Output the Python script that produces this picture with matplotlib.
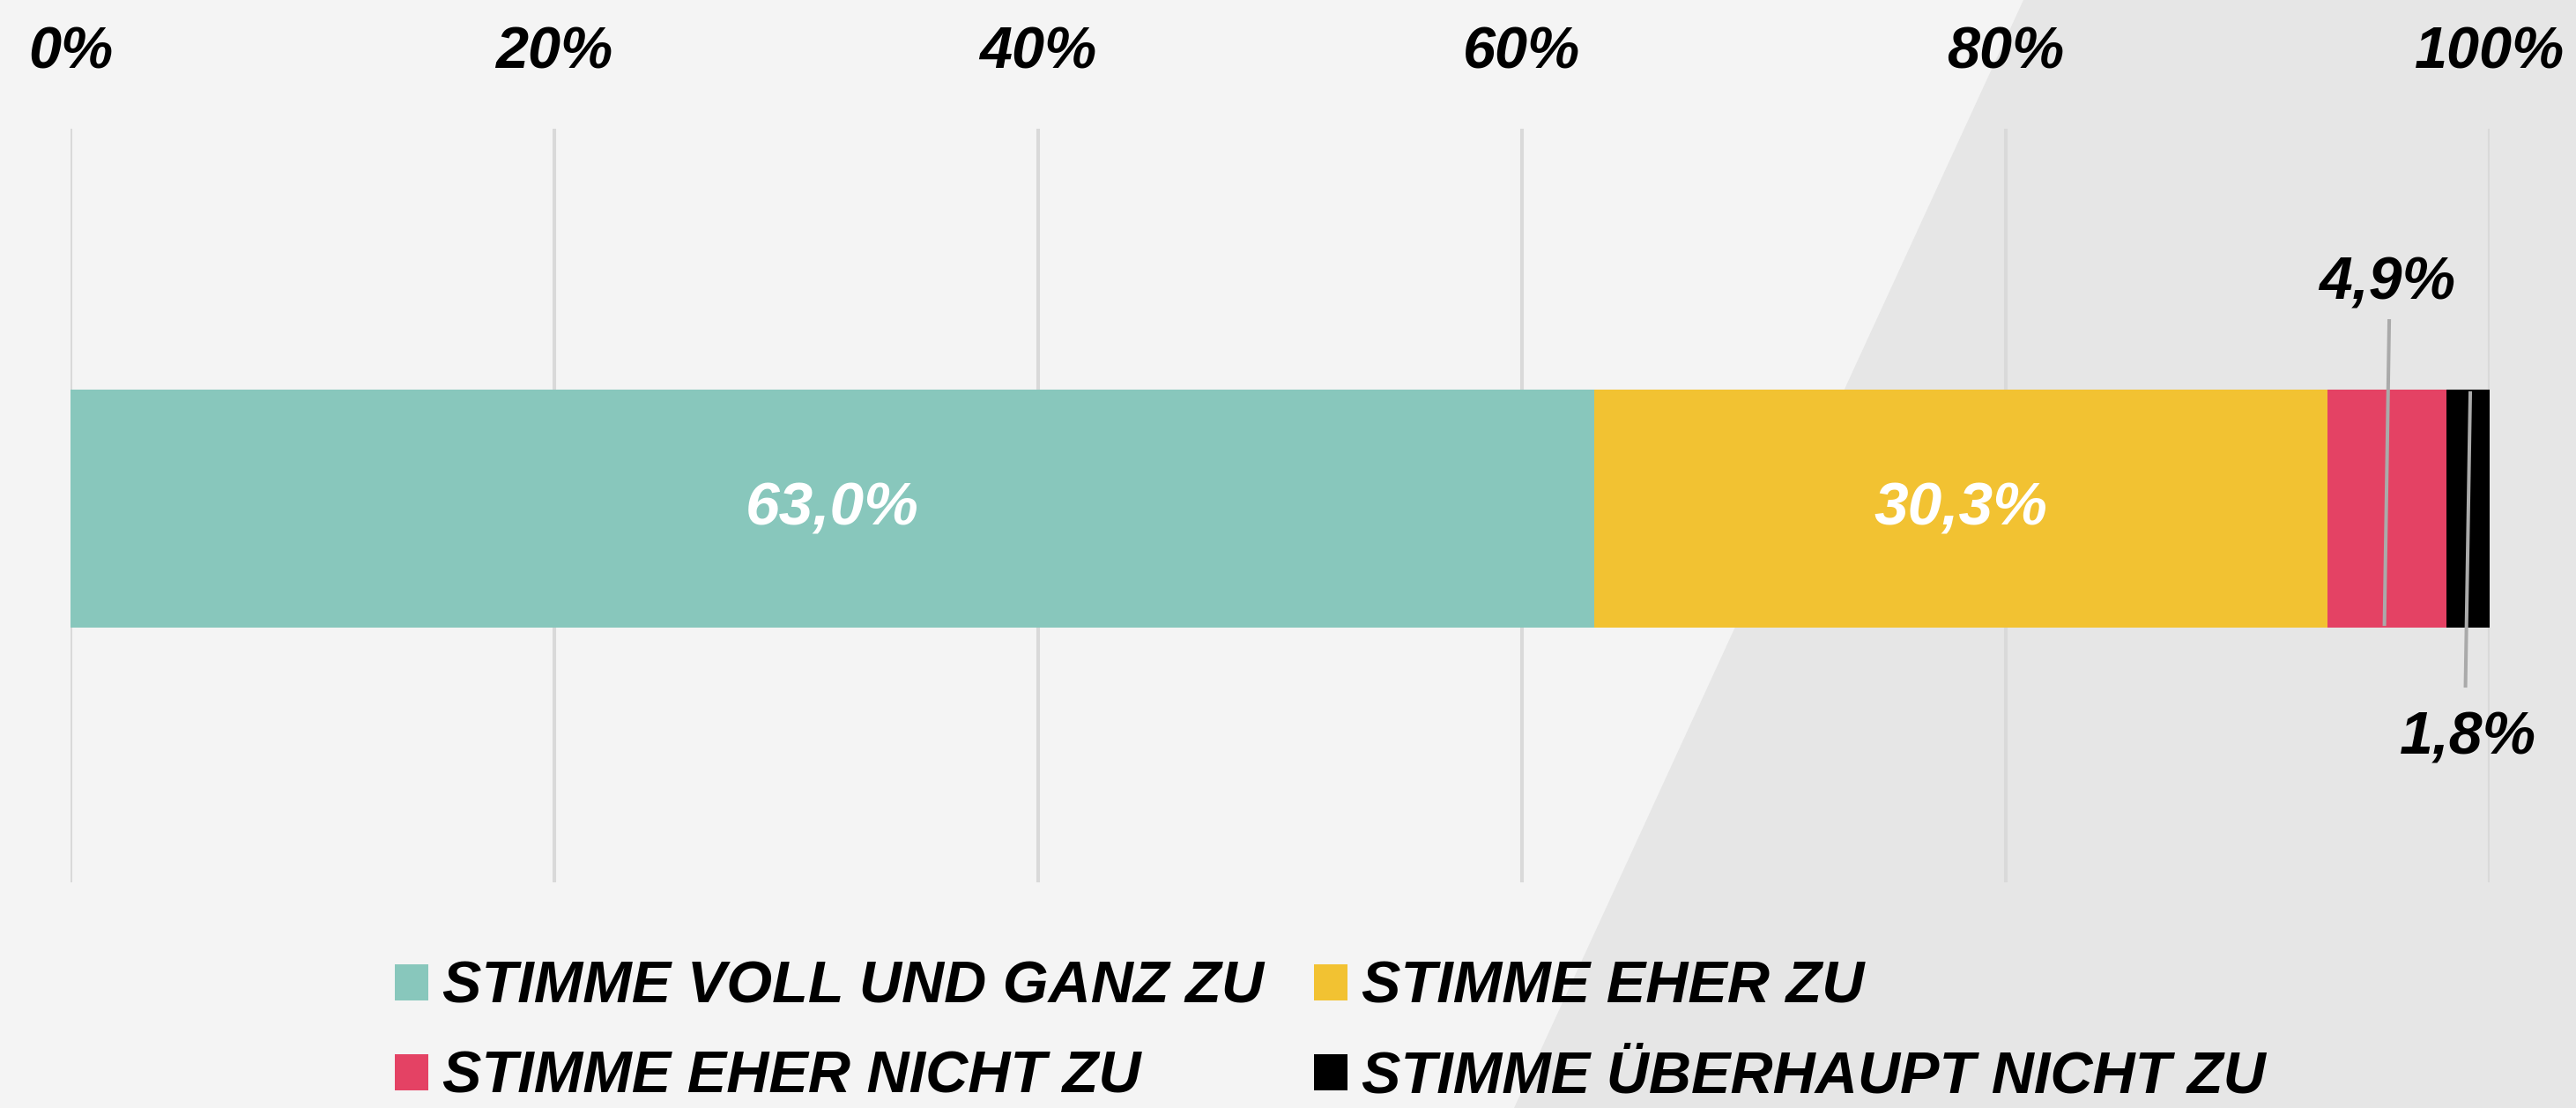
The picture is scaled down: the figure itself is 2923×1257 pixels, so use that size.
import matplotlib
matplotlib.use("Agg")
import matplotlib.pyplot as plt
from matplotlib.patches import Polygon, Patch
import numpy as np

# ---- data ----
categories = ["STIMME VOLL UND GANZ ZU", "STIMME EHER ZU",
              "STIMME EHER NICHT ZU", "STIMME ÜBERHAUPT NICHT ZU"]
values = [63.0, 30.3, 4.9, 1.8]
value_labels = ["63,0%", "30,3%", "4,9%", "1,8%"]
tick_values = [0, 20, 40, 60, 80, 100]
tick_labels = ["0%", "20%", "40%", "60%", "80%", "100%"]

# ---- style ----
colors = ["#88c7bc", "#f2c232", "#e44264", "#000000"]
bg_light = "#f4f4f4"
bg_dark = "#e6e6e6"
grid_color = "#d9d9d9"
leader_color = "#aaaaaa"
FONT = ["Liberation Sans", "DejaVu Sans"]
plt.rcParams["font.family"] = FONT

W, H = 2923, 1257
fig = plt.figure(figsize=(W / 100, H / 100), dpi=100)
fig.patch.set_facecolor(bg_light)

# diagonal darker background area (figure fractions)
fig.patches.append(Polygon([(2296 / W, 1.0), (1.0, 1.0), (1.0, 0.0), (1718 / W, 0.0)],
                           closed=True, transform=fig.transFigure,
                           facecolor=bg_dark, edgecolor="none", zorder=-5))

ax_left, ax_right = 80 / W, 2825 / W
ax_top_px, ax_bot_px = 146, 1001
ax = fig.add_axes([ax_left, 1 - ax_bot_px / H, ax_right - ax_left, (ax_bot_px - ax_top_px) / H])
ax.set_facecolor("none")
ax.set_zorder(1)

bar_center_px, bar_h_px = 577, 270
ax.set_xlim(0, 100)
ax.set_ylim(-(ax_bot_px - bar_center_px) / bar_h_px, (bar_center_px - ax_top_px) / bar_h_px)

lefts = np.concatenate([[0], np.cumsum(values)[:-1]])
ax.barh(0, values, left=lefts, height=1.0, color=colors, edgecolor="none", zorder=2)

# grid
ax.set_xticks(tick_values)
ax.set_xticklabels(tick_labels)
ax.set_axisbelow(True)
ax.grid(axis="x", color=grid_color, linewidth=2.9)
ax.set_yticks([])
for s in ax.spines.values():
    s.set_visible(False)
ax.xaxis.tick_top()
ax.tick_params(axis="x", length=0, pad=39, labelsize=48)
for t in ax.get_xticklabels():
    t.set_fontweight("bold")
    t.set_fontstyle("italic")
    t.set_color("black")

# value labels
for i, (l, v, lab) in enumerate(zip(lefts, values, value_labels)):
    c = l + v / 2
    if v > 10:
        ax.text(c, 0, lab, ha="center", va="center", color="white",
                fontsize=50, fontweight="bold", fontstyle="italic", zorder=4)
    else:
        side = 1 if i == 2 else -1
        if side > 0:
            y_out, y_in, y_lab = 0.796, -0.493, 0.88
        else:
            y_out, y_in, y_lab = -0.752, 0.493, -1.03
        x_top, x_bot = c + 0.1, c - 0.1
        y_top, y_bot = max(y_out, y_in), min(y_out, y_in)
        ax.plot([x_top, x_bot], [y_top, y_bot], color=leader_color, lw=2.9,
                solid_capstyle="butt", zorder=5)
        ax.text(c, y_lab, lab, ha="center", va="baseline", color="black",
                fontsize=49, fontweight="bold", fontstyle="italic", zorder=5)

# legend (row-wise order in two columns)
order = [0, 2, 1, 3]
handles = [Patch(facecolor=colors[k], edgecolor="none") for k in order]
labels = [categories[k] for k in order]
leg = fig.legend(handles, labels, ncol=2, loc="upper left",
                 bbox_to_anchor=(448 / W, 1 - 1090 / H),
                 frameon=False, borderpad=0, borderaxespad=0,
                 handlelength=0.57, handleheight=0.585, handletextpad=0.24,
                 columnspacing=0.855, labelspacing=0.6,
                 prop={"family": FONT, "weight": "bold", "style": "italic", "size": 48})

fig.savefig("out.png", dpi=100, facecolor=fig.get_facecolor())
